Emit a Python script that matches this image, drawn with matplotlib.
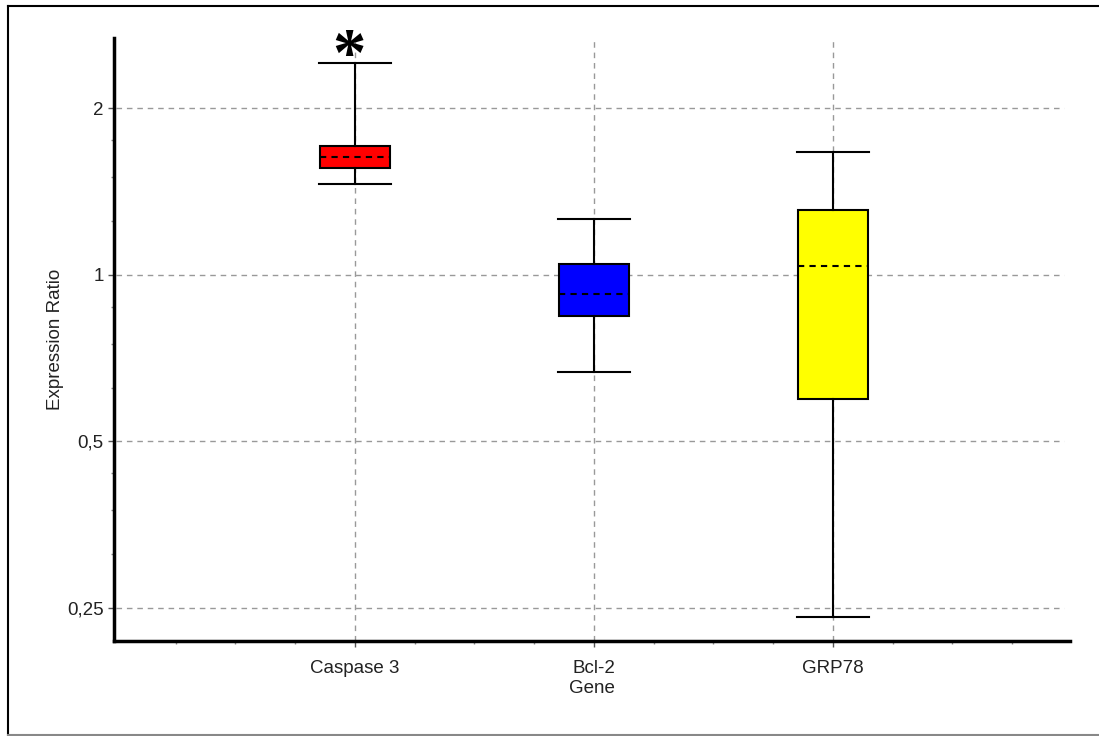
import matplotlib.pyplot as plt
from matplotlib.lines import Line2D
from matplotlib.ticker import FixedLocator, FuncFormatter

plt.rcParams["font.family"] = ["Liberation Sans", "DejaVu Sans"]

genes = ["Caspase 3", "Bcl-2", "GRP78"]
colors = ["#ff0000", "#0000ff", "#ffff00"]
whislo = [1.46, 0.667, 0.240]
q1 = [1.558, 0.843, 0.597]
med = [1.636, 0.923, 1.037]
q3 = [1.71, 1.045, 1.31]
whishi = [2.42, 1.262, 1.67]

y_major = [0.25, 0.5, 1, 2]
y_minor = [0.3125, 0.375, 0.4375, 0.625, 0.75, 0.875, 1.25, 1.5, 1.75]

fig = plt.figure(figsize=(10.99, 7.36), dpi=100)
ax = fig.add_axes([114 / 1099, 1 - 641 / 736, (1070 - 114) / 1099, (641 - 38) / 736])

stats = []
for i, g in enumerate(genes):
    stats.append(dict(label=g, whislo=whislo[i], q1=q1[i], med=med[i],
                      q3=q3[i], whishi=whishi[i], fliers=[]))

bp = ax.bxp(stats, positions=[1, 2, 3], widths=0.29, capwidths=0.3,
            showfliers=False, patch_artist=True,
            boxprops=dict(edgecolor="black", linewidth=1.5),
            whiskerprops=dict(color="black", linewidth=1.5),
            capprops=dict(color="black", linewidth=1.5),
            medianprops=dict(color="black", linewidth=1.5, linestyle=(0, (3, 2.5))))
for box, c in zip(bp["boxes"], colors):
    box.set_facecolor(c)
    box.set_zorder(3)
for ln in bp["whiskers"] + bp["caps"] + bp["medians"]:
    ln.set_zorder(4)

ax.set_yscale("log", base=2)
ax.set_ylim(0.2176, 2.68)
ax.set_xlim(-0.008, 3.992)

ax.yaxis.set_major_locator(FixedLocator(y_major))
ax.yaxis.set_minor_locator(FixedLocator(y_minor))
ax.yaxis.set_major_formatter(FuncFormatter(lambda v, p: f"{v:g}".replace(".", ",")))
ax.yaxis.set_minor_formatter(FuncFormatter(lambda v, p: ""))

ax.set_xticks([1, 2, 3])
ax.set_xticklabels(genes)
ax.set_xticks([0.25 * k for k in range(1, 16) if k % 4 != 0], minor=True)

ax.tick_params(axis="both", which="major", labelsize=13.5, length=4.5, width=1,
               color="#555555", labelcolor="#222222")
ax.tick_params(axis="both", which="minor", length=2.5, width=1, color="#888888")
ax.tick_params(axis="y", which="major", pad=3)
ax.tick_params(axis="x", which="major", pad=9)

# dashed grid, horizontal lines stop just short of the right end
for v in y_major:
    ax.plot([0, 3.965], [v, v], color="#999999", linestyle=(0, (4, 3.5)),
            linewidth=1, zorder=1)
ax.grid(axis="x", which="major", color="#999999", linestyle=(0, (4, 3.5)), linewidth=1)
ax.set_axisbelow(True)

for s in ["top", "right"]:
    ax.spines[s].set_visible(False)
for s in ["left", "bottom"]:
    ax.spines[s].set_linewidth(2.5)

ax.set_xlabel("Gene", fontsize=13.5, color="#222222", labelpad=2)
ax.set_ylabel("Expression Ratio", fontsize=13.5, color="#222222", labelpad=2)

# significance mark above Caspase 3
ax.text(0.975, 2.31, "*", ha="center", va="baseline", fontsize=48,
        fontweight="bold", family="Liberation Serif")

# outer frame
fig.add_artist(Line2D([8 / 1099, 8 / 1099], [1 - 6 / 736, 1 - 735 / 736],
                      color="black", linewidth=1.5, transform=fig.transFigure))
fig.add_artist(Line2D([8 / 1099, 1], [1 - 6 / 736, 1 - 6 / 736],
                      color="black", linewidth=1.5, transform=fig.transFigure))
fig.add_artist(Line2D([8 / 1099, 1], [1 - 735 / 736, 1 - 735 / 736],
                      color="#888888", linewidth=1.5, transform=fig.transFigure))

fig.savefig("out.png", dpi=100)
